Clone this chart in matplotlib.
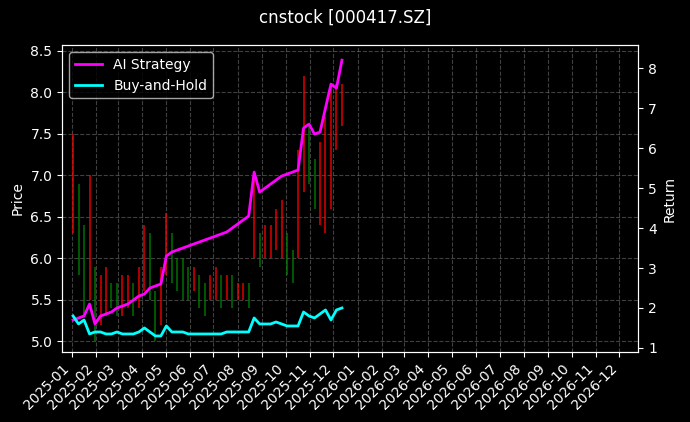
import numpy as np
import pandas as pd
import matplotlib
matplotlib.use("Agg")
import matplotlib.pyplot as plt
import matplotlib.dates as mdates

# weekly price ranges
lows = [6.3, 5.8, 5.3, 5.5, 5.0, 5.2, 5.3, 5.4, 5.3, 5.3, 5.4, 5.3, 5.4,
        5.6, 5.5, 5.0, 5.2, 5.8, 5.7, 5.6, 5.5, 5.5, 5.6, 5.4, 5.3,
        5.5, 5.5, 5.4, 5.5, 5.4, 5.5, 5.5, 5.4, 6.0, 5.9, 6.0, 6.0,
        6.1, 6.0, 5.8, 5.7, 6.0, 6.8, 6.9, 6.6, 6.4, 6.3, 6.6, 7.3, 7.6]
highs = [7.5, 6.9, 6.4, 7.0, 5.9, 5.8, 5.9, 5.7, 5.7, 5.8, 5.8, 5.7, 5.9,
         6.4, 6.3, 5.6, 5.9, 6.55, 6.3, 6.0, 6.0, 5.9, 5.9, 5.8, 5.7,
         5.8, 5.9, 5.8, 5.8, 5.8, 5.7, 5.7, 5.7, 7.0, 6.3, 6.4, 6.4,
         6.6, 6.7, 6.3, 6.1, 7.3, 8.2, 7.6, 7.2, 7.4, 7.7, 8.1, 8.1, 8.1]
strategy = [1.7, 1.75, 1.8, 2.1, 1.6, 1.8, 1.85, 1.9, 2.0, 2.05, 2.1, 2.2, 2.3,
            2.35, 2.5, 2.55, 2.6, 3.3, 3.4, 3.45, 3.5, 3.55, 3.6, 3.65, 3.7,
            3.75, 3.8, 3.85, 3.9, 4.0, 4.1, 4.2, 4.3, 5.4, 4.9, 5.0, 5.1,
            5.2, 5.3, 5.35, 5.4, 5.45, 6.5, 6.6, 6.35, 6.4, 7.0, 7.6, 7.5, 8.2]
buy_hold = [1.8, 1.6, 1.7, 1.35, 1.4, 1.4, 1.35, 1.35, 1.4, 1.35, 1.35, 1.35, 1.4,
            1.5, 1.4, 1.3, 1.3, 1.55, 1.4, 1.4, 1.4, 1.35, 1.35, 1.35, 1.35,
            1.35, 1.35, 1.35, 1.4, 1.4, 1.4, 1.4, 1.4, 1.75, 1.6, 1.6, 1.6,
            1.65, 1.6, 1.55, 1.55, 1.55, 1.9, 1.8, 1.75, 1.85, 1.95, 1.7, 1.95, 2.0]

dates = pd.date_range("2025-01-03", periods=len(lows), freq="W-FRI")

plt.style.use("dark_background")
fig, ax = plt.subplots(figsize=(6.9, 4.22), dpi=100)
fig.subplots_adjust(left=0.09, right=0.925, top=0.893, bottom=0.166)
fig.suptitle("cnstock [000417.SZ]", fontsize=12)

mids = [(l + h) / 2 for l, h in zip(lows, highs)]
for i, d in enumerate(dates):
    up = i == 0 or mids[i] >= mids[i - 1]
    ax.vlines(d, lows[i], highs[i], color="red" if up else "green",
              linewidth=1.3, alpha=0.75)
ax.set_ylabel("Price")
ax.set_ylim(4.87, 8.57)
ax.grid(True, linestyle="--", color="gray", alpha=0.5)

ax2 = ax.twinx()
ax2.plot(dates, strategy, color="magenta", linewidth=2, label="AI Strategy")
ax2.plot(dates, buy_hold, color="cyan", linewidth=2, label="Buy-and-Hold")
ax2.set_ylabel("Return")
ax2.set_ylim(0.9, 8.575)
ax2.legend(loc="upper left")

ax.set_xlim(pd.Timestamp("2024-12-20"), pd.Timestamp("2026-12-25"))
ax.xaxis.set_major_locator(mdates.MonthLocator())
ax.xaxis.set_major_formatter(mdates.DateFormatter("%Y-%m"))
plt.setp(ax.get_xticklabels(), rotation=45, ha="right")

fig.savefig("out.png")
